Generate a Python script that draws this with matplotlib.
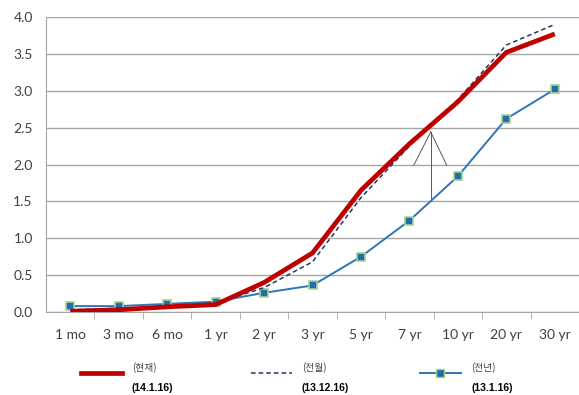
import matplotlib
matplotlib.use("Agg")
import matplotlib.pyplot as plt
from matplotlib.lines import Line2D
import numpy as np

# ── Data ────────────────────────────────────────────────────
maturities = ["1 mo", "3 mo", "6 mo", "1 yr", "2 yr", "3 yr", "5 yr", "7 yr", "10 yr", "20 yr", "30 yr"]
current = [0.01, 0.03, 0.07, 0.10, 0.40, 0.80, 1.65, 2.28, 2.85, 3.52, 3.77]      # 14.1.16
prev_month = [0.03, 0.05, 0.08, 0.12, 0.33, 0.68, 1.55, 2.25, 2.88, 3.62, 3.90]   # 13.12.16
prev_year = [0.08, 0.08, 0.11, 0.14, 0.26, 0.36, 0.75, 1.24, 1.84, 2.62, 3.02]    # 13.1.16

yticks = [0.0, 0.5, 1.0, 1.5, 2.0, 2.5, 3.0, 3.5, 4.0]

RED = "#C00000"
NAVY = "#1F3864"
BLUE = "#2E75B6"
GRID = "#A6A6A6"
TEXT = "#404040"

plt.rcParams["font.family"] = ["Lato", "Noto Sans CJK KR", "DejaVu Sans"]

W, H = 579, 395
fig = plt.figure(figsize=(W / 100, H / 100), dpi=100)
ax = fig.add_axes([46 / W, (H - 312) / H, 533 / W, 295 / H])

x = np.arange(len(maturities))
ax.plot(x, prev_year, color=BLUE, linewidth=1.4, marker="s", markersize=5.5,
        markerfacecolor="#1F6FB0", markeredgecolor="#A9D18E", markeredgewidth=1.2, zorder=3)
ax.plot(x, prev_month, color=NAVY, linewidth=1.1, linestyle=(0, (3, 2)), zorder=4)
ax.plot(x, current, color=RED, linewidth=3.4, solid_capstyle="butt", zorder=5)

# arrow-like annotation lines
apex = (7.44, 2.44)
for end in [(7.09, 1.99), (7.44, 1.55), (7.77, 1.99)]:
    ax.plot([apex[0], end[0]], [apex[1], end[1]], color="#595959", linewidth=0.7, zorder=6)

ax.set_xlim(-0.5, len(maturities) - 0.5)
ax.set_ylim(0, 4.0)
ax.set_yticks(yticks)
ax.set_yticklabels([f"{v:.1f}" for v in yticks])
ax.yaxis.grid(True, color=GRID, linewidth=1.0)
ax.set_axisbelow(True)

ax.set_xticks(x)
ax.set_xticklabels(maturities)
ax.set_xticks(np.arange(0.5, len(maturities) - 0.5, 1.0), minor=True)
ax.tick_params(axis="x", which="major", length=0, pad=12, labelsize=10, labelcolor=TEXT)
ax.tick_params(axis="x", which="minor", length=5, direction="out", color=GRID)
ax.tick_params(axis="y", length=0, pad=9.5, labelsize=10, labelcolor=TEXT)

for side in ["top", "right"]:
    ax.spines[side].set_visible(False)
for side in ["left", "bottom"]:
    ax.spines[side].set_color(GRID)

# ── Legend (manual) ─────────────────────────────────────────
legend_items = [
    (81, RED, 3.4, "-", None, "(현재)", "(14.1.16)"),
    (251, NAVY, 1.1, (0, (3, 2)), None, "(전월)", "(13.12.16)"),
    (420, BLUE, 1.4, "-", "s", "(전년)", "(13.1.16)"),
]
ly = 1 - 373 / H
for x0, col, lw, ls, mk, lab1, lab2 in legend_items:
    fig.add_artist(Line2D([x0 / W, (x0 + 41) / W], [ly, ly], color=col, linewidth=lw, linestyle=ls,
                          transform=fig.transFigure))
    if mk:
        fig.add_artist(Line2D([(x0 + 20) / W], [ly], marker=mk, markersize=5.5, color=col,
                              markerfacecolor="#1F6FB0", markeredgecolor="#A9D18E",
                              transform=fig.transFigure))
    fig.text((x0 + 51) / W, 1 - 368 / H, lab1, fontsize=7, color=TEXT, va="center",
             family=["Noto Sans CJK KR", "DejaVu Sans"])
    fig.text((x0 + 51) / W, 1 - 388 / H, lab2, fontsize=7.5, color="#000000", va="center",
             fontweight="bold", family=["Liberation Sans", "DejaVu Sans"])

fig.savefig("out.png", dpi=100, facecolor="white")
